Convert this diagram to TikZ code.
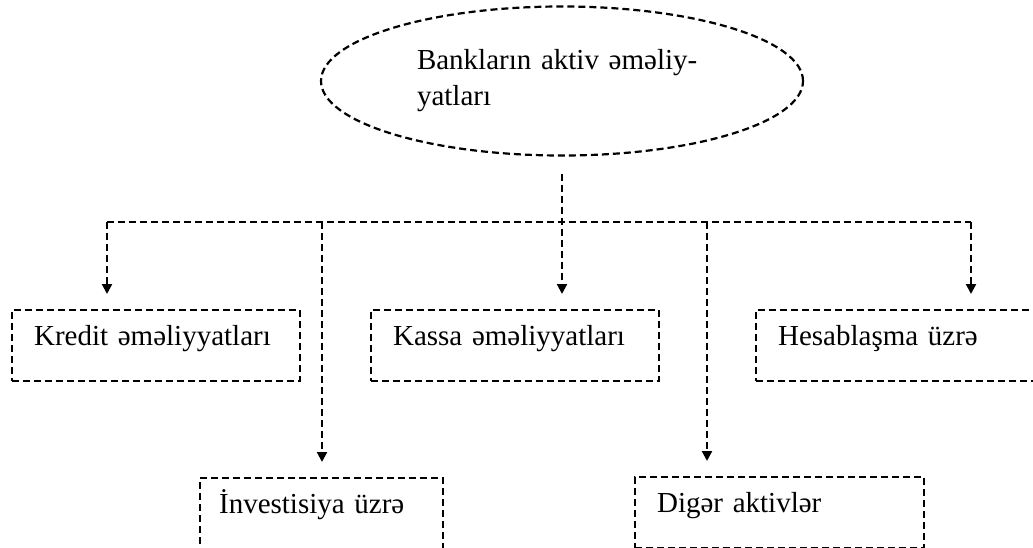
\documentclass[tikz,border=0pt]{standalone}
\usepackage{fontspec}
\setmainfont{Liberation Serif}
\usetikzlibrary{arrows.meta,shapes.geometric}
\tikzset{
  dashline/.style={line width=2.2pt, dash pattern=on 7pt off 4pt},
  opbox/.style={draw, dashline, rectangle, anchor=north west, inner xsep=22pt, inner ysep=0pt,
    text height=35pt, text depth=36pt, align=left},
  flow/.style={dashline, -{Triangle[length=10pt,width=10pt]}, shorten >=15pt},
}
\begin{document}
\begin{tikzpicture}[x=1pt, y=-1pt, font=\fontsize{29}{36}\selectfont]
  \useasboundingbox (0,0) rectangle (1033,548);

  \node[ellipse, draw, dashline, minimum width=482pt, minimum height=149pt,
        text width=290pt, align=left] (root) at (562,81) {Bankların aktiv əməliy-\\yatları};

  \node[opbox, text width=244pt] (kredit) at (11,309) {Kredit əməliyyatları};
  \node[opbox, text width=244pt] (kassa) at (370,309) {Kassa əməliyyatları};
  \node[opbox, text width=244pt] (hesab) at (755,309) {Hesablaşma üzrə};
  \node[opbox, inner xsep=19pt, text width=205pt] (invest) at (199,477) {İnvestisiya üzrə};
  \node[opbox, text width=245pt] (diger) at (634,476) {Digər aktivlər};

  \coordinate (b1) at (107,222);
  \coordinate (b2) at (322,222);
  \coordinate (b4) at (707,222);
  \coordinate (b5) at (971,222);

  \draw[dashline] (b1) -- (b5);
  \draw[flow, shorten <=17pt] (root.south) -- (root.south |- kassa.north);
  \draw[flow] (b1) -- (b1 |- kredit.north);
  \draw[flow] (b2) -- (b2 |- invest.north);
  \draw[flow] (b4) -- (b4 |- diger.north);
  \draw[flow] (b5) -- (b5 |- hesab.north);
\end{tikzpicture}
\end{document}
